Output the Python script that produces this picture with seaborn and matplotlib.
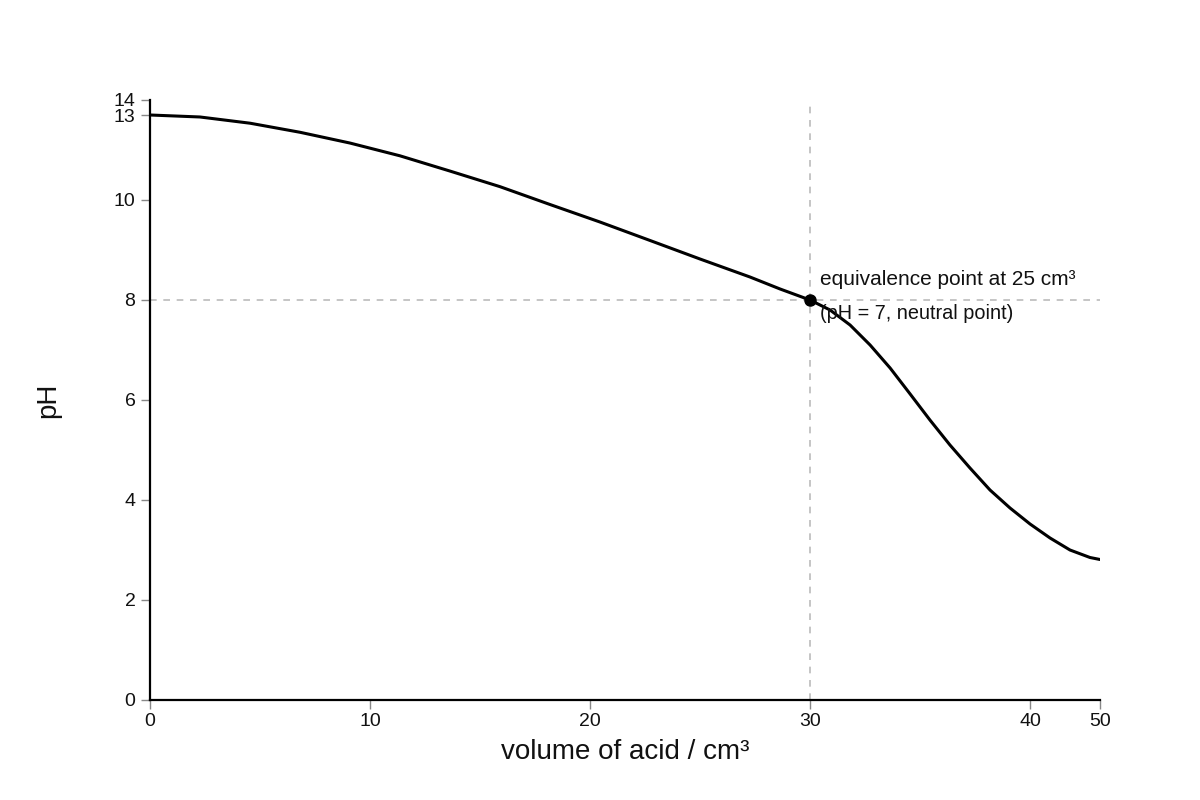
import numpy as np
import pandas as pd
import matplotlib
matplotlib.use("Agg")
import matplotlib.pyplot as plt
import seaborn as sns

# titration curve (x in cm3, y in pH axis units)
volume = [0, 2.27, 4.55, 6.82, 9.09, 11.36, 13.64, 15.91, 18.18, 20.45, 22.73, 25.0,
          27.27, 28.64, 30.0, 30.91, 31.82, 32.73, 33.64, 34.55, 35.45, 36.36, 37.27,
          38.18, 39.09, 40.0, 42.86, 45.71, 48.57, 50.0]
ph = [13.0, 12.93, 12.71, 12.39, 12.01, 11.56, 11.02, 10.47, 9.91, 9.56, 9.19, 8.82,
      8.46, 8.22, 8.0, 7.8, 7.5, 7.1, 6.64, 6.12, 5.6, 5.1, 4.64,
      4.2, 3.84, 3.52, 3.24, 3.0, 2.85, 2.81]

eq_x, eq_y = 30, 8
x_ticks = [0, 10, 20, 30, 40, 50]
y_ticks = [0, 2, 4, 6, 8, 10, 13, 14]

# the axes of the original are piecewise (unevenly spaced ticks)
x_dom, x_rng = [-1000, 0, 40, 50, 1000], [-1000, 0, 40, 43.18, 43.18 + 950 * 0.318]
y_dom, y_rng = [-1000, 0, 10, 13, 14, 1000], [-1000, 0, 10, 11.7, 12, 12 + 986 * 0.3]


def piecewise(dom, rng):
    return (lambda v: np.interp(v, dom, rng), lambda v: np.interp(v, rng, dom))


sns.set_theme(style="white")
plt.rcParams["font.family"] = ["Liberation Sans", "DejaVu Sans"]

df = pd.DataFrame({"volume": volume, "pH": ph})

fig = plt.figure(figsize=(12, 8), dpi=100)
ax = fig.add_axes([0.125, 0.125, 950 / 1200, 0.75])

sns.lineplot(data=df, x="volume", y="pH", color="black", linewidth=2.2, sort=False, ax=ax)
ax.lines[-1].set_solid_joinstyle("round")

ax.set_xscale("function", functions=piecewise(x_dom, x_rng))
ax.set_yscale("function", functions=piecewise(y_dom, y_rng))
ax.set_xlim(0, 50)
ax.set_ylim(0, 14)

ax.axhline(eq_y, color="#bbbbbb", linewidth=1.2, linestyle=(0, (4, 4)), zorder=1)
ax.axvline(eq_x, color="#bbbbbb", linewidth=1.2, linestyle=(0, (4, 4)), zorder=1)
ax.plot([eq_x], [eq_y], "o", color="black", markersize=8, zorder=5)

ax.annotate("equivalence point at 25 cm³", (eq_x, eq_y), xytext=(10, 15),
            textcoords="offset pixels", fontsize=15, va="baseline", ha="left", color="#111111")
ax.annotate("(pH = 7, neutral point)", (eq_x, eq_y), xytext=(10, -19),
            textcoords="offset pixels", fontsize=14.3, va="baseline", ha="left", color="#111111")

ax.set_xticks(x_ticks)
ax.set_xticklabels([str(t) for t in x_ticks])
ax.set_yticks(y_ticks)
ax.set_yticklabels([str(t) for t in y_ticks])
ax.tick_params(axis="both", length=6.5, width=1.0, color="#888888", labelsize=14,
               labelcolor="#111111", pad=4, direction="out")
ax.tick_params(axis="x", pad=3)
ax.tick_params(axis="both", which="both", bottom=True, left=True)

for side in ["top", "right"]:
    ax.spines[side].set_visible(False)
for side in ["left", "bottom"]:
    ax.spines[side].set_color("black")
    ax.spines[side].set_linewidth(1.6)

ax.set_xlabel("volume of acid / cm³", fontsize=20, labelpad=6, color="#111111")
ax.set_ylabel("pH", fontsize=20, labelpad=38, color="#111111")

fig.savefig("out.png", dpi=100)
